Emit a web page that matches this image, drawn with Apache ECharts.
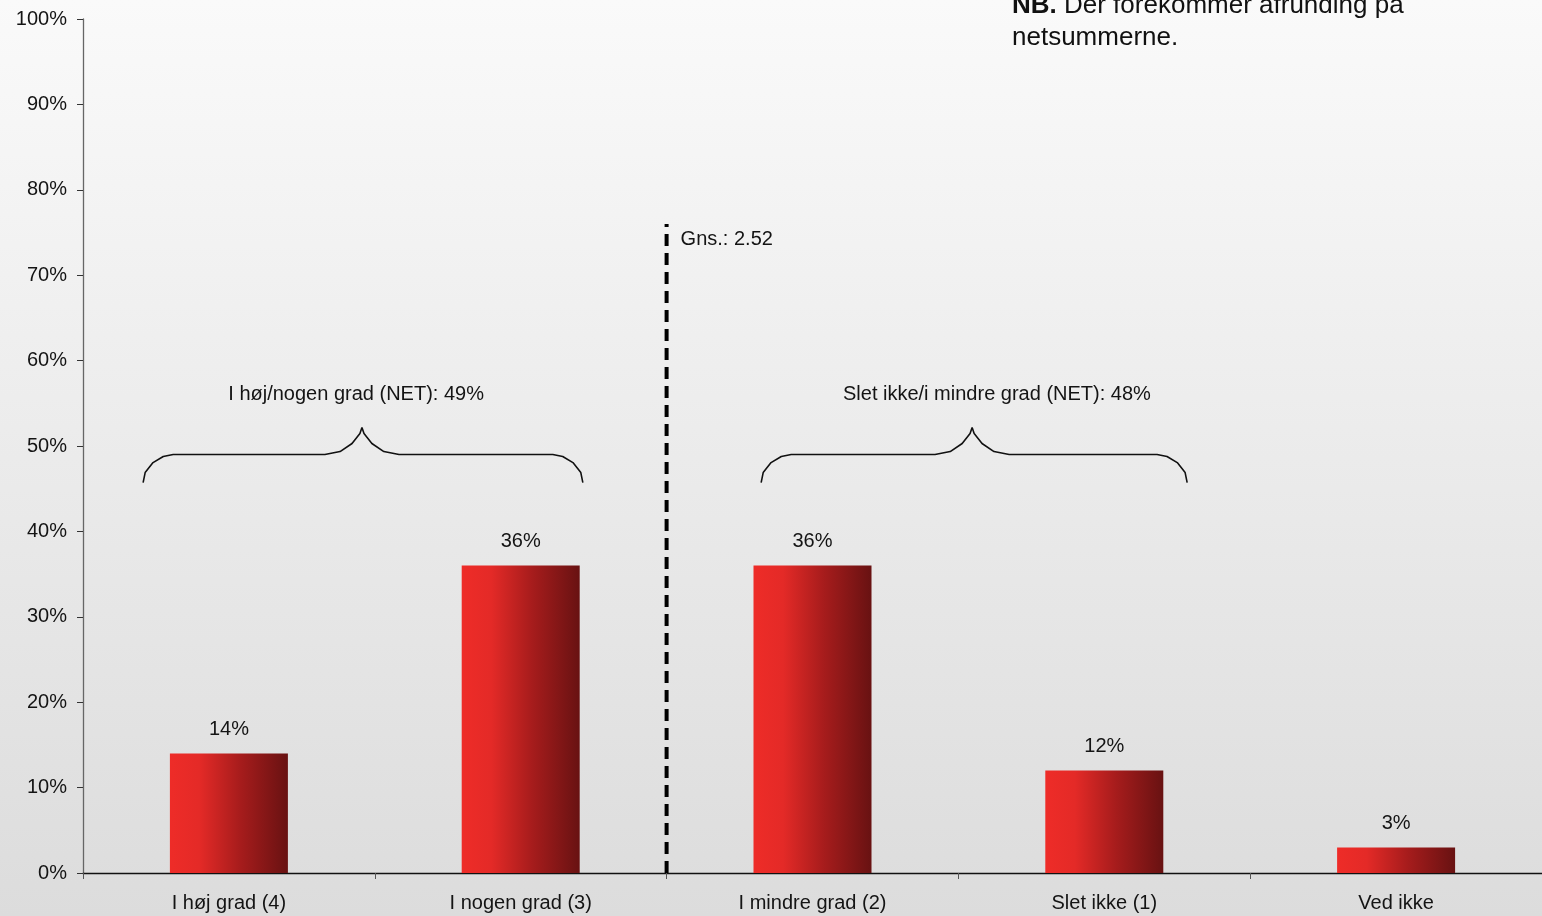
<!DOCTYPE html>
<html>
<head>
<meta charset="utf-8">
<script src="https://cdn.jsdelivr.net/npm/echarts@6/dist/echarts.min.js"></script>
<style>html,body{margin:0;padding:0;}#c{width:1542px;height:916px;}</style>
</head>
<body>
<div id="c"></div>
<script>
const categories = ['I høj grad (4)', 'I nogen grad (3)', 'I mindre grad (2)', 'Slet ikke (1)', 'Ved ikke'];
const values = [14, 36, 36, 12, 3];
const yMax = 100;
const yStep = 10;
const meanText = 'Gns.: 2.52';
const meanBoundary = 2;      // between 2nd and 3rd category
const meanLineTop = 76;
const meanTextLevel = 74.2;
const netLabels = ['I høj/nogen grad (NET): 49%', 'Slet ikke/i mindre grad (NET): 48%'];
const netSpans = [[0.206, 1.713], [2.324, 3.784]];
const netPeaks = [0.956, 3.047];
const netLabelX = [0.936, 3.132];
const braceLevel = 49;
const netLabelLevel = 56;
const noteBold = 'NB.';
const noteText = ' Der forekommer afrunding på\nnetsummerne.';

function bracePoints(span, c, L) {
  const a = span[0], b = span[1];
  const endDx = [0, 0.007, 0.034, 0.069, 0.103];
  const endDy = [-3.28, -2.11, -0.94, -0.23, 0];
  const midDx = [-0.127, -0.075, -0.034, -0.007, 0];
  const midDy = [0, 0.35, 1.29, 2.46, 3.16];
  const pts = [];
  for (let i = 0; i < 5; i++) pts.push([a + endDx[i], L + endDy[i]]);
  for (let i = 0; i < 5; i++) pts.push([c + midDx[i], L + midDy[i]]);
  for (let i = 3; i >= 0; i--) pts.push([c - midDx[i], L + midDy[i]]);
  for (let i = 4; i >= 0; i--) pts.push([b - endDx[i], L + endDy[i]]);
  return pts;
}

const FONT = 'Liberation Sans, Arial, Helvetica, sans-serif';
const TXT = '#141414';
const chart = echarts.init(document.getElementById('c'), null, {renderer: 'canvas'});

function textLabel(pos, dist, text) {
  return {show: true, position: pos, distance: dist, formatter: text, fontSize: 20, color: TXT, fontFamily: FONT, opacity: 1};
}
const annotationData = [
  {value: [meanBoundary, meanTextLevel], label: textLabel('right', 14, meanText)},
  {value: [netLabelX[0], netLabelLevel], label: textLabel('inside', 0, netLabels[0])},
  {value: [netLabelX[1], netLabelLevel], label: textLabel('inside', 0, netLabels[1])}
];

const braceSeries = netSpans.map((s, i) => ({
  type: 'line', xAxisIndex: 1, yAxisIndex: 0, silent: true, symbol: 'none',
  data: bracePoints(s, netPeaks[i], braceLevel),
  lineStyle: {color: '#111', width: 1.6}, z: 5
}));

chart.setOption({
  animation: false,
  backgroundColor: new echarts.graphic.LinearGradient(0, 0, 0, 1, [
    {offset: 0, color: '#fafafa'}, {offset: 1, color: '#dcdcdc'}
  ]),
  textStyle: {fontFamily: FONT},
  grid: {left: 83, right: 0, top: 19, bottom: 43, containLabel: false},
  xAxis: [
    {
      type: 'category', data: categories,
      axisLine: {lineStyle: {color: '#111', width: 1.3}},
      axisTick: {show: true, length: 6, lineStyle: {color: '#555'}},
      axisLabel: {fontSize: 20, color: TXT, margin: 20, fontFamily: FONT},
      splitLine: {show: false}
    },
    {type: 'value', min: 0, max: categories.length, show: false}
  ],
  yAxis: {
    type: 'value', min: 0, max: yMax, interval: yStep,
    axisLine: {show: true, lineStyle: {color: '#666', width: 1.3}},
    axisTick: {show: true, length: 6, lineStyle: {color: '#333'}},
    axisLabel: {fontSize: 20, color: TXT, margin: 16, formatter: '{value}%', fontFamily: FONT},
    splitLine: {show: false}
  },
  series: [
    {
      type: 'bar', data: values, barWidth: 118,
      itemStyle: {
        color: new echarts.graphic.LinearGradient(0, 0, 1, 0, [
          {offset: 0, color: '#ee2c28'},
          {offset: 0.25, color: '#e42a27'},
          {offset: 0.6, color: '#a61c1c'},
          {offset: 1, color: '#681212'}
        ])
      },
      label: {show: true, position: 'top', distance: 14, formatter: '{c}%', fontSize: 20, color: TXT, fontFamily: FONT},
      z: 3
    },
    {
      type: 'line', xAxisIndex: 1, yAxisIndex: 0, silent: true, symbol: 'none',
      data: [[meanBoundary, 0], [meanBoundary, meanLineTop]],
      lineStyle: {color: '#000', width: 4, type: [12, 7]}, z: 6
    },
    ...braceSeries,
    {
      type: 'scatter', xAxisIndex: 1, yAxisIndex: 0, silent: true, symbolSize: 0,
      itemStyle: {opacity: 1, color: 'transparent'},
      data: annotationData,
      z: 7
    }
  ],
  graphic: [
    {
      type: 'text', x: 1012, y: -10, silent: true,
      style: {
        text: '{b|' + noteBold + '}{n|' + noteText.split('\n')[0] + '}\n{n|' + noteText.split('\n')[1] + '}',
        rich: {
          b: {fontWeight: 'bold', fontSize: 26, lineHeight: 32, fontFamily: FONT, fill: '#111'},
          n: {fontSize: 26, lineHeight: 32, fontFamily: FONT, fill: '#111'}
        }
      }
    }
  ]
});
</script>
</body>
</html>
